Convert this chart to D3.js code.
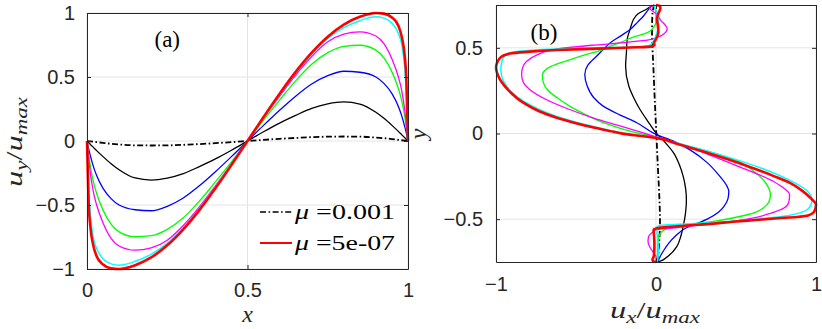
<!DOCTYPE html>
<html lang="en">
<head>
<meta charset="utf-8">
<title>Velocity profiles (a) u_y and (b) u_x</title>
<script src="https://d3js.org/d3.v7.min.js"></script>
<style>
  body { margin: 0; background: #fff; }
</style>
</head>
<body>
<script>
// ---- panel (a): u_y/u_max against x ----
const aX = [0, 0.005, 0.01, 0.02, 0.03, 0.05, 0.075, 0.1, 0.15, 0.2, 0.25, 0.3, 0.35, 0.4, 0.45,
            0.5, 0.55, 0.6, 0.65, 0.7, 0.75, 0.8, 0.85, 0.9, 0.925, 0.95, 0.97, 0.98, 0.99, 0.995, 1];
const aDashDot = [0, -0.0015, -0.003, -0.006, -0.009, -0.015, -0.022, -0.027, -0.034, -0.035, -0.034, -0.03, -0.024, -0.017, -0.009,
                  0, 0.009, 0.017, 0.024, 0.03, 0.034, 0.035, 0.034, 0.027, 0.022, 0.015, 0.009, 0.006, 0.003, 0.0015, 0];
const aBlack = [0, -0.013, -0.025, -0.05, -0.075, -0.122, -0.177, -0.224, -0.289, -0.305, -0.29, -0.255, -0.2, -0.14, -0.072,
                0, 0.072, 0.14, 0.2, 0.255, 0.29, 0.305, 0.289, 0.224, 0.177, 0.122, 0.075, 0.05, 0.025, 0.013, 0];
const aBlue = [0, -0.06, -0.11, -0.2, -0.27, -0.37, -0.45, -0.5, -0.537, -0.545, -0.51, -0.445, -0.35, -0.24, -0.122,
               0, 0.122, 0.24, 0.35, 0.445, 0.51, 0.545, 0.537, 0.5, 0.45, 0.37, 0.27, 0.2, 0.11, 0.06, 0];
const aGreen = [0, -0.1, -0.19, -0.32, -0.41, -0.54, -0.65, -0.71, -0.748, -0.74, -0.69, -0.6, -0.47, -0.32, -0.163,
                0, 0.163, 0.32, 0.47, 0.6, 0.69, 0.74, 0.748, 0.71, 0.65, 0.54, 0.41, 0.32, 0.19, 0.1, 0];
const aMagenta = [0, -0.13, -0.24, -0.4, -0.5, -0.64, -0.76, -0.82, -0.853, -0.835, -0.775, -0.66, -0.515, -0.35, -0.178,
                  0, 0.178, 0.35, 0.515, 0.66, 0.775, 0.835, 0.853, 0.82, 0.76, 0.64, 0.5, 0.4, 0.24, 0.13, 0];
const aCyan = [0, -0.35, -0.56, -0.76, -0.84, -0.92, -0.96, -0.97, -0.94, -0.885, -0.8, -0.68, -0.53, -0.36, -0.183,
               0, 0.183, 0.36, 0.53, 0.68, 0.8, 0.885, 0.94, 0.97, 0.96, 0.92, 0.84, 0.76, 0.56, 0.35, 0];
const aRed = [0, -0.48, -0.66, -0.82, -0.9, -0.965, -0.995, -1.0, -0.97, -0.91, -0.815, -0.69, -0.54, -0.37, -0.188,
              0, 0.188, 0.37, 0.54, 0.69, 0.815, 0.91, 0.97, 1.0, 0.995, 0.965, 0.9, 0.82, 0.66, 0.48, 0];

// ---- panel (b): u_x/u_max against y (each curve has its own y samples) ----
const bDashDotY = [-0.75, -0.7, -0.6, -0.5, -0.4, -0.2, 0, 0.2, 0.4, 0.5, 0.6, 0.7, 0.75];
const bDashDotU = [0.008, 0.015, 0.022, 0.025, 0.022, 0.012, 0.002, -0.008, -0.017, -0.022, -0.025, -0.022, -0.012];

const bBlackY = [-0.75, -0.745, -0.72, -0.66, -0.6, -0.542, -0.46, -0.386, -0.32, -0.25, -0.18, -0.113, -0.05, 0.004,
                 0.07, 0.14, 0.21, 0.277, 0.394, 0.47, 0.55, 0.6, 0.63, 0.667, 0.7, 0.725, 0.745, 0.75];
const bBlackU = [0.01, 0.027, 0.07, 0.13, 0.155, 0.17, 0.185, 0.19, 0.185, 0.17, 0.145, 0.11, 0.055, 0.0,
                 -0.05, -0.1, -0.14, -0.17, -0.19, -0.185, -0.18, -0.165, -0.155, -0.14, -0.11, -0.06, -0.025, -0.01];

const bBlueY = [-0.75, -0.72, -0.68, -0.64, -0.6, -0.55, -0.52, -0.5, -0.46, -0.425, -0.38, -0.337, -0.31, -0.24, -0.17,
                -0.1, -0.045, -0.005, 0.063, 0.11, 0.16, 0.21, 0.277, 0.345, 0.4, 0.452, 0.49, 0.53,
                0.57, 0.608, 0.65, 0.686, 0.72, 0.75];
const bBlueU = [0.01, 0.025, 0.05, 0.08, 0.12, 0.19, 0.27, 0.32, 0.39, 0.425, 0.45, 0.455, 0.445, 0.39, 0.32,
                0.22, 0.11, 0.0, -0.12, -0.23, -0.33, -0.39, -0.43, -0.445, -0.425, -0.37, -0.33, -0.285,
                -0.22, -0.16, -0.115, -0.078, -0.05, -0.025];

const bGreenY = [-0.75, -0.72, -0.68, -0.64, -0.6, -0.575, -0.555, -0.54, -0.525, -0.51, -0.483, -0.46, -0.435, -0.4,
                 -0.357, -0.32, -0.27, -0.22, -0.17, -0.103, -0.06, -0.02, 0.004, 0.063, 0.11, 0.16, 0.21, 0.257,
                 0.3, 0.34, 0.39, 0.43, 0.46, 0.49, 0.51, 0.54, 0.56, 0.59, 0.62, 0.65, 0.7, 0.75];
const bGreenU = [0.005, 0.008, 0.01, 0.012, 0.018, 0.035, 0.07, 0.14, 0.26, 0.38, 0.53, 0.62, 0.67, 0.705,
                 0.715, 0.705, 0.67, 0.61, 0.53, 0.32, 0.14, 0.0, -0.12, -0.33, -0.44, -0.54, -0.62, -0.68,
                 -0.705, -0.71, -0.66, -0.54, -0.44, -0.33, -0.285, -0.2, -0.15, -0.05, -0.015, 0.0, 0.0, -0.015];

const bMagentaY = [-0.75, -0.72, -0.69, -0.66, -0.63, -0.6, -0.575, -0.561, -0.55, -0.532, -0.515, -0.493, -0.465,
                   -0.435, -0.4, -0.357, -0.32, -0.28, -0.19, -0.13, -0.074, -0.02, 0.043, 0.09, 0.14, 0.2, 0.257,
                   0.3, 0.345, 0.38, 0.42, 0.46, 0.49, 0.515, 0.53, 0.54, 0.55, 0.57, 0.59, 0.61, 0.63, 0.66,
                   0.7, 0.72, 0.735, 0.75];
const bMagentaU = [0.0, 0.0, -0.02, -0.04, -0.05, -0.045, -0.02, 0.005, 0.12, 0.3, 0.47, 0.61, 0.72,
                   0.8, 0.83, 0.835, 0.8, 0.735, 0.51, 0.35, 0.19, 0.0, -0.22, -0.39, -0.54, -0.69, -0.79,
                   -0.83, -0.84, -0.835, -0.81, -0.74, -0.64, -0.4, -0.2, -0.1, -0.03, 0.03, 0.06, 0.07, 0.06, 0.03,
                   0.0, -0.03, -0.04, -0.015];

const bCyanY = [-0.75, -0.74, -0.71, -0.68, -0.64, -0.6, -0.56, -0.545, -0.538, -0.532, -0.522, -0.51, -0.495, -0.48,
                -0.46, -0.43, -0.39, -0.34, -0.29, -0.21, -0.113, -0.06, -0.025, 0.002, 0.045, 0.1, 0.19, 0.25,
                0.3, 0.37, 0.41, 0.44, 0.46, 0.475, 0.485, 0.493, 0.5, 0.507, 0.515, 0.55, 0.59, 0.63, 0.667,
                0.71, 0.75];
const bCyanU = [0.0, 0.01, 0.014, 0.016, 0.012, 0.008, 0.005, 0.006, 0.02, 0.1, 0.3, 0.5, 0.68, 0.82,
                0.91, 0.96, 0.975, 0.95, 0.87, 0.68, 0.36, 0.15, 0.0, -0.2, -0.41, -0.62, -0.83, -0.91,
                -0.95, -0.97, -0.965, -0.955, -0.935, -0.9, -0.8, -0.62, -0.35, -0.12, -0.04, -0.01, 0.006, 0.016, 0.016,
                0.005, -0.015];

const bRedY = [-0.75, -0.745, -0.735, -0.72, -0.7, -0.65, -0.6, -0.56, -0.555, -0.548, -0.538, -0.526, -0.515, -0.505,
               -0.495, -0.487, -0.478, -0.46, -0.44, -0.415, -0.376, -0.335, -0.29, -0.25, -0.21, -0.16, -0.113,
               -0.06, -0.027, -0.015, -0.002, 0.015, 0.039, 0.06, 0.092, 0.13, 0.18, 0.25, 0.3, 0.34, 0.385,
               0.42, 0.445, 0.458, 0.468, 0.478, 0.487, 0.497, 0.503, 0.507, 0.515, 0.53, 0.55, 0.59, 0.63,
               0.667, 0.7, 0.73, 0.745, 0.75];
const bRedU = [0.0, -0.018, -0.022, -0.015, -0.012, -0.01, -0.012, -0.015, 0.0, 0.05, 0.18, 0.36, 0.48, 0.62,
               0.76, 0.88, 0.95, 0.985, 0.996, 1.0, 0.965, 0.915, 0.84, 0.74, 0.63, 0.48, 0.32,
               0.13, 0.006, -0.09, -0.2, -0.29, -0.41, -0.5, -0.62, -0.73, -0.83, -0.92, -0.965, -0.988, -1.0,
               -0.99, -0.97, -0.945, -0.9, -0.79, -0.62, -0.31, -0.12, -0.035, -0.01, -0.012, 0.0, 0.015, 0.012,
               0.006, 0.015, 0.027, 0.025, 0.0];

// ticks and legend text
const aXTicks = [0, 0.5, 1];
const aYTicks = [-1, -0.5, 0, 0.5, 1];
const bXTicks = [-1, 0, 1];
const bYTicks = [-0.5, 0, 0.5];
const legendValues = ["0.001", "5e-07"];

const width = 822, height = 329;
const axisColor = "#262626";
const gridColor = "#e4e4e4";

const lineStyle = {
  dashdot: { color: "#000000", width: 1.8, dash: "6,2.5,1.6,2.5" },
  black:   { color: "#000000", width: 1.3 },
  blue:    { color: "#0000ff", width: 1.3 },
  green:   { color: "#00ff00", width: 1.3 },
  magenta: { color: "#ff00ff", width: 1.3 },
  cyan:    { color: "#00ffff", width: 1.5 },
  red:     { color: "#ff0000", width: 2.6 }
};

const svg = d3.select("body").append("svg")
  .attr("width", width)
  .attr("height", height)
  .style("font-family", "'Liberation Sans', Arial, sans-serif");

function drawFrame(p) {
  const x = d3.scaleLinear().domain(p.xDomain).range([p.left, p.right]);
  const y = d3.scaleLinear().domain(p.yDomain).range([p.bottom, p.top]);
  const g = svg.append("g");

  // grid
  g.selectAll(".gx").data(p.xTicks).enter().append("line")
    .attr("x1", d => x(d)).attr("x2", d => x(d))
    .attr("y1", p.top).attr("y2", p.bottom)
    .attr("stroke", gridColor).attr("stroke-width", 1);
  g.selectAll(".gy").data(p.yTicks).enter().append("line")
    .attr("x1", p.left).attr("x2", p.right)
    .attr("y1", d => y(d)).attr("y2", d => y(d))
    .attr("stroke", gridColor).attr("stroke-width", 1);

  return { x, y, g };
}

function drawAxes(p, x, y) {
  const ax = svg.append("g");
  const tick = 4;
  ax.append("g").attr("transform", `translate(0,${p.bottom})`)
    .call(d3.axisBottom(x).tickValues(p.xTicks).tickFormat(d3.format("")).tickSizeInner(-tick).tickSizeOuter(0).tickPadding(p.xPad));
  ax.append("g").attr("transform", `translate(0,${p.top})`)
    .call(d3.axisTop(x).tickValues(p.xTicks).tickFormat("").tickSizeInner(-tick).tickSizeOuter(0));
  ax.append("g").attr("transform", `translate(${p.left},0)`)
    .call(d3.axisLeft(y).tickValues(p.yTicks).tickFormat(d3.format("")).tickSizeInner(-tick).tickSizeOuter(0).tickPadding(p.yPad));
  ax.append("g").attr("transform", `translate(${p.right},0)`)
    .call(d3.axisRight(y).tickValues(p.yTicks).tickFormat("").tickSizeInner(-tick).tickSizeOuter(0));
  ax.selectAll(".domain").attr("stroke", axisColor).attr("stroke-width", 1);
  ax.selectAll(".tick line").attr("stroke", axisColor);
  ax.selectAll(".tick text").attr("fill", axisColor)
    .style("font-size", "20px").style("font-family", "'Liberation Sans', Arial, sans-serif");
}

// ---------- panel (a) ----------
const pa = { left: 87, right: 408, top: 13, bottom: 269, xDomain: [0, 1], yDomain: [-1, 1],
             xTicks: aXTicks, yTicks: aYTicks, xPad: 14, yPad: 12 };
const A = drawFrame(pa);
const lineA = d3.line().x(d => A.x(d[0])).y(d => A.y(d[1])).curve(d3.curveMonotoneX);
const seriesA = [
  ["dashdot", aDashDot], ["black", aBlack], ["blue", aBlue], ["green", aGreen],
  ["magenta", aMagenta], ["cyan", aCyan], ["red", aRed]
];
seriesA.forEach(([key, vals]) => {
  const s = lineStyle[key];
  A.g.append("path")
    .datum(d3.zip(aX, vals))
    .attr("d", lineA)
    .attr("fill", "none")
    .attr("stroke", s.color)
    .attr("stroke-width", s.width)
    .attr("stroke-dasharray", s.dash || null)
    .attr("stroke-linejoin", "round");
});
drawAxes(pa, A.x, A.y);

// ---------- panel (b) ----------
const pb = { left: 496, right: 816, top: 5, bottom: 262, xDomain: [-1, 1], yDomain: [-0.75, 0.75],
             xTicks: bXTicks, yTicks: bYTicks, xPad: 15, yPad: 13 };
const B = drawFrame(pb);
const lineB = d3.line().x(d => B.x(d[0])).y(d => B.y(d[1])).curve(d3.curveMonotoneY);
const seriesB = [
  ["dashdot", bDashDotU, bDashDotY], ["black", bBlackU, bBlackY], ["blue", bBlueU, bBlueY],
  ["green", bGreenU, bGreenY], ["magenta", bMagentaU, bMagentaY], ["cyan", bCyanU, bCyanY],
  ["red", bRedU, bRedY]
];
seriesB.forEach(([key, us, ys]) => {
  const s = lineStyle[key];
  B.g.append("path")
    .datum(d3.zip(us, ys))
    .attr("d", lineB)
    .attr("fill", "none")
    .attr("stroke", s.color)
    .attr("stroke-width", s.width)
    .attr("stroke-dasharray", s.dash || null)
    .attr("stroke-linejoin", "round");
});
drawAxes(pb, B.x, B.y);

// ---------- text: panel tags, axis labels, legend ----------
const serif = "'Liberation Serif', 'DejaVu Serif', serif";

svg.append("text").attr("x", A.x(0.25)).attr("y", 47).attr("text-anchor", "middle")
  .style("font-family", serif).style("font-size", "23px").text("(a)");
svg.append("text").attr("x", 544).attr("y", 40).attr("text-anchor", "middle")
  .style("font-family", serif).style("font-size", "23px").text("(b)");

// x label of (a)
svg.append("text").attr("x", A.x(0.5)).attr("y", 322).attr("text-anchor", "middle")
  .style("font-family", serif).style("font-size", "24px").style("font-style", "italic").attr("fill", axisColor)
  .text("x");

// fraction label helper: u_sub/u_max
function fracLabel(sel, sub) {
  sel.style("font-family", serif).style("font-size", "24px").attr("fill", axisColor);
  sel.append("tspan").style("font-style", "italic").text("u");
  sel.append("tspan").attr("dy", 5).style("font-size", "17px").style("font-style", "italic").text(sub);
  sel.append("tspan").attr("dy", -5).text("/");
  sel.append("tspan").style("font-style", "italic").text("u");
  sel.append("tspan").attr("dy", 5).style("font-size", "17px").style("font-style", "italic").text("max");
}

const ylabA = svg.append("text")
  .attr("transform", "translate(22,142) rotate(-90)")
  .attr("text-anchor", "middle")
  .attr("textLength", 90).attr("lengthAdjust", "spacingAndGlyphs");
fracLabel(ylabA, "y");

const xlabB = svg.append("text")
  .attr("x", 655).attr("y", 318)
  .attr("text-anchor", "middle")
  .attr("textLength", 90).attr("lengthAdjust", "spacingAndGlyphs");
fracLabel(xlabB, "x");

svg.append("text")
  .attr("transform", "translate(426,134) rotate(-90)")
  .attr("text-anchor", "middle")
  .style("font-family", serif).style("font-size", "24px").style("font-style", "italic").attr("fill", axisColor)
  .text("y");

// legend in panel (a)
const legendKeys = ["dashdot", "red"];
const legend = svg.append("g");
legendKeys.forEach((key, i) => {
  const s = lineStyle[key];
  const yy = 212 + i * 31;
  legend.append("line")
    .attr("x1", 260).attr("x2", 292).attr("y1", yy).attr("y2", yy)
    .attr("stroke", s.color).attr("stroke-width", key === "red" ? 2 : 1.6)
    .attr("stroke-dasharray", s.dash || null);
  const t = legend.append("text")
    .attr("x", 295).attr("y", yy + 7)
    .attr("textLength", 100).attr("lengthAdjust", "spacingAndGlyphs")
    .style("font-family", serif).style("font-size", "22px").attr("fill", "#000");
  t.append("tspan").style("font-style", "italic").text("\u03bc");
  t.append("tspan").text(" =" + legendValues[i]);
});
</script>
</body>
</html>
